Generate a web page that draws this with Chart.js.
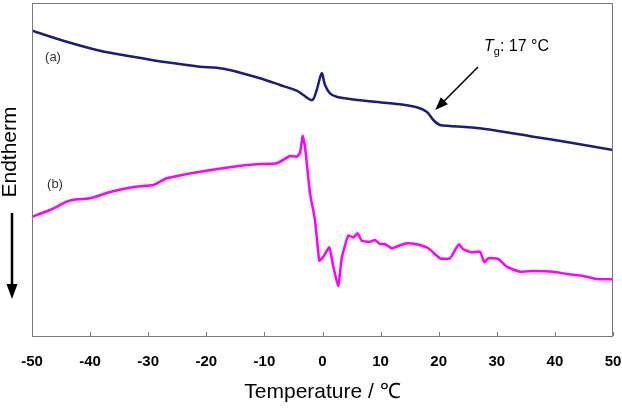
<!DOCTYPE html>
<html>
<head>
<meta charset="utf-8">
<script src="https://cdn.jsdelivr.net/npm/chart.js@4"></script>
<style>
  body { margin: 0; background: #fff; }
  canvas { display: block; }
</style>
</head>
<body>
<canvas id="dscChart" width="622" height="409"></canvas>
<script>
// DSC curves, temperature in degC, heat flow in arbitrary units
const tempA = [-50, -44.03, -38.3, -32.62, -26.82, -21.08, -18.21, -15.4, -10.76, -7.31, -4.44, -3.3, -1.76, -1.0, -0.14, 0.43, 1.29, 2.44, 4.73, 8.18, 13.34, 16.21, 17.93, 19.07, 20.22, 21.94, 27.68, 36.28, 42.03, 50];
const heatA = [30.53, 29.43, 28.53, 27.93, 27.37, 26.93, 26.83, 26.53, 25.77, 25.1, 24.53, 24.1, 23.6, 24.6, 26.27, 25.1, 24.27, 23.93, 23.7, 23.47, 23.17, 22.87, 22.43, 21.6, 21.1, 21.0, 20.73, 19.93, 19.4, 18.6];

const tempB = [-50, -46.9, -44.03, -42.31, -40.02, -36.57, -32.56, -29.12, -26.82, -21.08, -15.35, -11.33, -7.88, -5.59, -4.44, -3.87, -3.41, -3.01, -2.15, -1.29, -0.55, 0.14, 1.17, 1.86, 2.72, 3.3, 4.44, 5.3, 6.06, 6.75, 8.18, 9.04, 9.9, 10.76, 11.91, 13.05, 14.49, 16.21, 18.21, 20.22, 21.94, 22.81, 23.49, 24.23, 25.68, 27.11, 27.85, 28.54, 30.26, 31.7, 33.99, 36.28, 39.72, 42.03, 44.89, 47.19, 50];
const heatB = [11.93, 12.6, 13.43, 13.67, 13.77, 14.4, 14.9, 15.1, 15.77, 16.43, 16.93, 17.17, 17.27, 18.0, 17.93, 18.33, 20.0, 18.93, 14.27, 11.6, 7.53, 7.93, 8.87, 6.93, 5.03, 7.77, 10.05, 9.85, 10.27, 9.53, 9.43, 9.6, 9.2, 9.2, 8.77, 9.0, 9.27, 9.17, 8.77, 7.77, 7.77, 8.6, 9.17, 8.67, 8.37, 8.43, 7.37, 7.77, 7.7, 6.93, 6.43, 6.5, 6.43, 6.2, 6.0, 5.7, 5.67];

const xTicks = [-50, -40, -30, -20, -10, 0, 10, 20, 30, 40, 50];
const tgValue = 17;

const toPoints = (xs, ys) => xs.map((x, i) => ({ x: x, y: ys[i] }));

// frame, inward ticks, labels and arrows
const decorations = {
  id: "decorations",
  afterDraw(chart) {
    const ctx = chart.ctx;
    const area = chart.chartArea;
    const xScale = chart.scales.x;
    const yScale = chart.scales.y;
    ctx.save();

    ctx.strokeStyle = "#7a7a7a";
    ctx.lineWidth = 1;
    ctx.strokeRect(area.left + 0.5, area.top + 0.5, area.right - area.left - 1, area.bottom - area.top);
    xTicks.forEach(t => {
      const px = Math.round(xScale.getPixelForValue(t)) + 0.5;
      ctx.beginPath();
      ctx.moveTo(px, area.bottom);
      ctx.lineTo(px, area.bottom - 4);
      ctx.stroke();
    });

    // curve labels
    ctx.fillStyle = "#333";
    ctx.font = "13px 'Liberation Sans', Arial, sans-serif";
    ctx.textAlign = "center";
    ctx.textBaseline = "middle";
    ctx.fillText("(a)", 53, 57);
    ctx.fillText("(b)", 55, 184);

    // Tg annotation
    const ax = xScale.getPixelForValue(tgValue + 2.4);
    const ay = yScale.getPixelForValue(22.6);
    ctx.fillStyle = "#000";
    ctx.textAlign = "left";
    ctx.textBaseline = "alphabetic";
    ctx.font = "italic 16px 'Liberation Sans', Arial, sans-serif";
    ctx.fillText("T", 484, 51);
    let cx = 484 + ctx.measureText("T").width;
    ctx.font = "11px 'Liberation Sans', Arial, sans-serif";
    ctx.fillText("g", cx, 55);
    cx += ctx.measureText("g").width;
    ctx.font = "16px 'Liberation Sans', Arial, sans-serif";
    ctx.fillText(": " + tgValue + " \u00b0C", cx, 51);

    ctx.strokeStyle = "#000";
    ctx.lineWidth = 1.6;
    ctx.beginPath();
    ctx.moveTo(478, 67);
    ctx.lineTo(ax + 5, ay - 5);
    ctx.stroke();
    const ang = Math.atan2(ay - 67, ax - 478);
    ctx.beginPath();
    ctx.moveTo(ax, ay);
    ctx.lineTo(ax - 13 * Math.cos(ang) + 5 * Math.sin(ang), ay - 13 * Math.sin(ang) - 5 * Math.cos(ang));
    ctx.lineTo(ax - 13 * Math.cos(ang) - 5 * Math.sin(ang), ay - 13 * Math.sin(ang) + 5 * Math.cos(ang));
    ctx.closePath();
    ctx.fill();

    // y axis caption
    ctx.save();
    ctx.translate(10, 152);
    ctx.rotate(-Math.PI / 2);
    ctx.textAlign = "center";
    ctx.textBaseline = "middle";
    ctx.font = "21px 'Liberation Sans', Arial, sans-serif";
    ctx.fillText("Endtherm", 0, 0);
    ctx.restore();

    ctx.lineWidth = 2.5;
    ctx.beginPath();
    ctx.moveTo(12, 213);
    ctx.lineTo(12, 288);
    ctx.stroke();
    ctx.beginPath();
    ctx.moveTo(12, 299);
    ctx.lineTo(6.5, 284);
    ctx.lineTo(17.5, 284);
    ctx.closePath();
    ctx.fill();

    ctx.restore();
  }
};

new Chart(document.getElementById("dscChart").getContext("2d"), {
  type: "line",
  data: {
    datasets: [
      {
        label: "(a)",
        data: toPoints(tempA, heatA),
        borderColor: "#1c1c7e",
        borderWidth: 2.5,
        pointRadius: 0,
        tension: 0.3,
        fill: false
      },
      {
        label: "(b)",
        data: toPoints(tempB, heatB),
        borderColor: "#ff00ff",
        borderWidth: 2.5,
        pointRadius: 0,
        tension: 0.15,
        fill: false
      }
    ]
  },
  options: {
    responsive: false,
    animation: false,
    devicePixelRatio: 1,
    layout: { padding: { top: 3, right: 9, left: 0, bottom: 0 } },
    plugins: { legend: { display: false }, tooltip: { enabled: false } },
    scales: {
      x: {
        type: "linear",
        min: -50,
        max: 50,
        afterFit: (scale) => {
          scale.height = 73;
          scale.paddingLeft = 0;
          scale.paddingRight = 0;
        },
        afterBuildTicks: (scale) => { scale.ticks = xTicks.map(v => ({ value: v })); },
        grid: { display: false, drawTicks: false },
        border: { display: false },
        ticks: {
          padding: 17,
          color: "#000",
          font: { family: "'Liberation Sans', Arial, sans-serif", size: 15, weight: "bold" },
          maxRotation: 0
        },
        title: {
          display: true,
          text: "Temperature / \u2103",
          color: "#000",
          font: { family: "'Liberation Sans', Arial, sans-serif", size: 21 },
          padding: { top: 0, bottom: 4 }
        }
      },
      y: {
        type: "linear",
        min: 0,
        max: 33.3,
        afterFit: (scale) => {
          scale.width = 32;
          scale.paddingTop = 0;
          scale.paddingBottom = 0;
        },
        grid: { display: false, drawTicks: false },
        border: { display: false },
        ticks: { display: false }
      }
    }
  },
  plugins: [decorations]
});
</script>
</body>
</html>
